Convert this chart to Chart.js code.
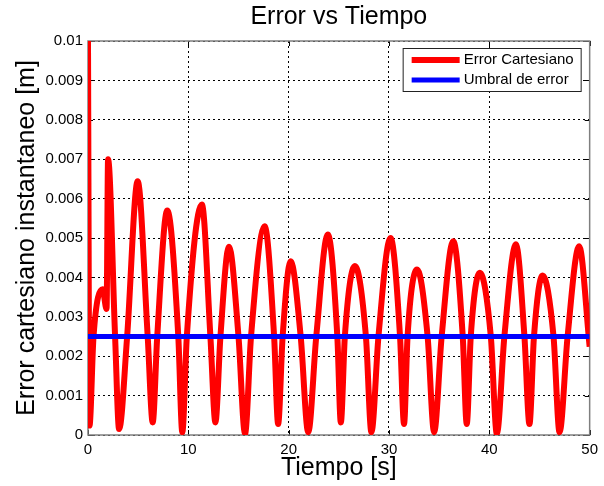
<!DOCTYPE html>
<html>
<head>
<meta charset="utf-8">
<title>Error vs Tiempo</title>
<script src="https://cdn.jsdelivr.net/npm/chart.js@4.4.0/dist/chart.umd.min.js"></script>
<style>
    html, body { margin: 0; padding: 0; background: #fff; }
    #wrap { width: 604px; height: 486px; }
</style>
</head>
<body>
<div id="wrap"><canvas id="error-chart" width="604" height="486"></canvas></div>
<script>
// values (t in s, error in m)
const tiempo = [
    0, 0.15, 0.55, 1.45, 1.85, 2.0, 2.7, 3.1, 3.9, 4.95,
    5.95, 6.45, 6.9, 7.9, 9.0, 9.4, 9.85, 11.35, 12.2, 12.7,
    13.2, 14.05, 15.0, 15.65, 16.25, 17.6, 18.55, 18.95, 19.4, 20.2,
    21.2, 21.95, 22.75, 23.9, 24.85, 25.2, 25.6, 26.6, 27.7, 28.25,
    28.95, 30.15, 31.1, 31.5, 31.85, 32.8, 33.85, 34.5, 35.25, 36.4,
    37.35, 37.75, 38.15, 39.05, 40.15, 40.75, 41.5, 42.65, 43.5, 44.0,
    44.45, 45.3, 46.4, 47.0, 47.8, 48.95, 50.0
];
const errorCartesiano = [
    0.0100, 0.00024, 0.0025, 0.0037, 0.0032, 0.0070, 0.0025, 0.00015, 0.0025, 0.00644,
    0.0025, 0.00032, 0.0025, 0.0057, 0.0025, 0.00007, 0.0025, 0.00585, 0.0025, 0.00032,
    0.0025, 0.00478, 0.0025, 0.00003, 0.0025, 0.0053, 0.0025, 0.00028, 0.0025, 0.00441,
    0.0025, 0.00007, 0.0025, 0.00509, 0.0025, 0.00032, 0.0025, 0.00429, 0.0025, 0.00007,
    0.0025, 0.0050, 0.0025, 0.00028, 0.0025, 0.0042, 0.0025, 0.00007, 0.0025, 0.00492,
    0.0025, 0.00028, 0.0025, 0.00412, 0.0025, 0.00003, 0.0025, 0.00484, 0.0025, 0.00028,
    0.0025, 0.00405, 0.0025, 0.00007, 0.0025, 0.00479, 0.00224
];
const umbralTiempo = [0, 50];
const umbralError = [0.0025, 0.0025];

const xTicks = [0, 10, 20, 30, 40, 50];
const yTicks = [0, 0.001, 0.002, 0.003, 0.004, 0.005, 0.006, 0.007, 0.008, 0.009, 0.01];

const FONT = "'Liberation Sans', Arial, Helvetica, sans-serif";

function toPoints(xs, ys) {
    return xs.map((x, i) => ({ x: x, y: ys[i] }));
}

// axes box + inward tick marks, MATLAB style
const axesBox = {
    id: 'axesBox',
    beforeDatasetsDraw(chart) {
        const { ctx, chartArea: a, scales: { x, y } } = chart;
        ctx.save();
        ctx.strokeStyle = '#000';
        ctx.lineWidth = 1;
        ctx.beginPath();
        xTicks.forEach(t => {
            const px = Math.round(x.getPixelForValue(t)) + 0.5;
            ctx.moveTo(px, a.bottom); ctx.lineTo(px, a.bottom - 5);
            ctx.moveTo(px, a.top); ctx.lineTo(px, a.top + 5);
        });
        yTicks.forEach(v => {
            const py = Math.round(y.getPixelForValue(v)) + 0.5;
            ctx.moveTo(a.left, py); ctx.lineTo(a.left + 5, py);
            ctx.moveTo(a.right, py); ctx.lineTo(a.right - 5, py);
        });
        ctx.stroke();
        ctx.strokeStyle = '#7f7f7f';
        ctx.lineWidth = 1.5;
        ctx.strokeRect(a.left, a.top, a.right - a.left, a.bottom - a.top);
        ctx.restore();
    }
};

// legend drawn inside the axes, top right
const insideLegend = {
    id: 'insideLegend',
    afterDraw(chart) {
        const { ctx, chartArea: a } = chart;
        const w = 178, h = 43;
        const left = a.right - 9 - w, top = a.top + 7;
        ctx.save();
        ctx.fillStyle = '#fff';
        ctx.fillRect(left, top, w, h);
        ctx.strokeStyle = '#222';
        ctx.lineWidth = 1;
        ctx.strokeRect(left + 0.5, top + 0.5, w, h);
        ctx.font = '15px ' + FONT;
        ctx.textBaseline = 'middle';
        [chart.data.datasets[1], chart.data.datasets[0]].forEach((ds, i) => {
            const yy = top + 12 + i * 20;
            ctx.strokeStyle = ds.borderColor;
            ctx.lineWidth = ds.borderWidth;
            ctx.beginPath();
            ctx.moveTo(left + 9, yy);
            ctx.lineTo(left + 57, yy);
            ctx.stroke();
            ctx.fillStyle = '#000';
            ctx.fillText(ds.label, left + 61, yy);
        });
        ctx.restore();
    }
};

const ctx = document.getElementById('error-chart').getContext('2d');

const errorChart = new Chart(ctx, {
    type: 'line',
    data: {
        datasets: [
            {
                label: 'Umbral de error',
                data: toPoints(umbralTiempo, umbralError),
                borderColor: '#0000ff',
                borderWidth: 5,
                pointRadius: 0,
                fill: false,
                order: 0,
            },
            {
                label: 'Error Cartesiano',
                data: toPoints(tiempo, errorCartesiano),
                borderColor: '#ff0000',
                borderWidth: 6,
                pointRadius: 0,
                cubicInterpolationMode: 'monotone',
                fill: false,
                order: 1,
            },
        ],
    },
    options: {
        responsive: false,
        animation: false,
        layout: { padding: { top: 0, right: 13, left: 0, bottom: 0 } },
        plugins: {
            legend: { display: false },
            tooltip: { enabled: false },
            title: {
                display: true,
                text: 'Error vs Tiempo',
                fullSize: false,
                color: '#000',
                font: { family: FONT, size: 25, weight: 'normal' },
                padding: { top: 2, bottom: 9 },
            },
        },
        scales: {
            x: {
                type: 'linear',
                min: 0,
                max: 50,
                afterBuildTicks: s => { s.ticks = xTicks.map(v => ({ value: v })); },
                afterFit: s => { s.height = 51; },
                grid: { color: '#000', drawTicks: false, lineWidth: 1 },
                border: { display: false, dash: [2, 3] },
                ticks: { color: '#000', padding: 6, maxRotation: 0, font: { family: FONT, size: 15 } },
                title: {
                    display: true,
                    text: 'Tiempo [s]',
                    color: '#000',
                    font: { family: FONT, size: 25 },
                    padding: { bottom: 3 },
                },
            },
            y: {
                min: 0,
                max: 0.01,
                afterBuildTicks: s => { s.ticks = yTicks.map(v => ({ value: v })); },
                afterFit: s => { s.width = 88; },
                grid: { color: '#000', drawTicks: false, lineWidth: 1 },
                border: { display: false, dash: [2, 3] },
                ticks: {
                    color: '#000',
                    padding: 5,
                    font: { family: FONT, size: 15 },
                    callback: v => parseFloat(v.toFixed(3)).toString(),
                },
                title: {
                    display: true,
                    text: 'Error cartesiano instantaneo [m]',
                    color: '#000',
                    font: { family: FONT, size: 25 },
                    padding: { top: 12 },
                },
            },
        },
    },
    plugins: [axesBox, insideLegend],
});
</script>
</body>
</html>
